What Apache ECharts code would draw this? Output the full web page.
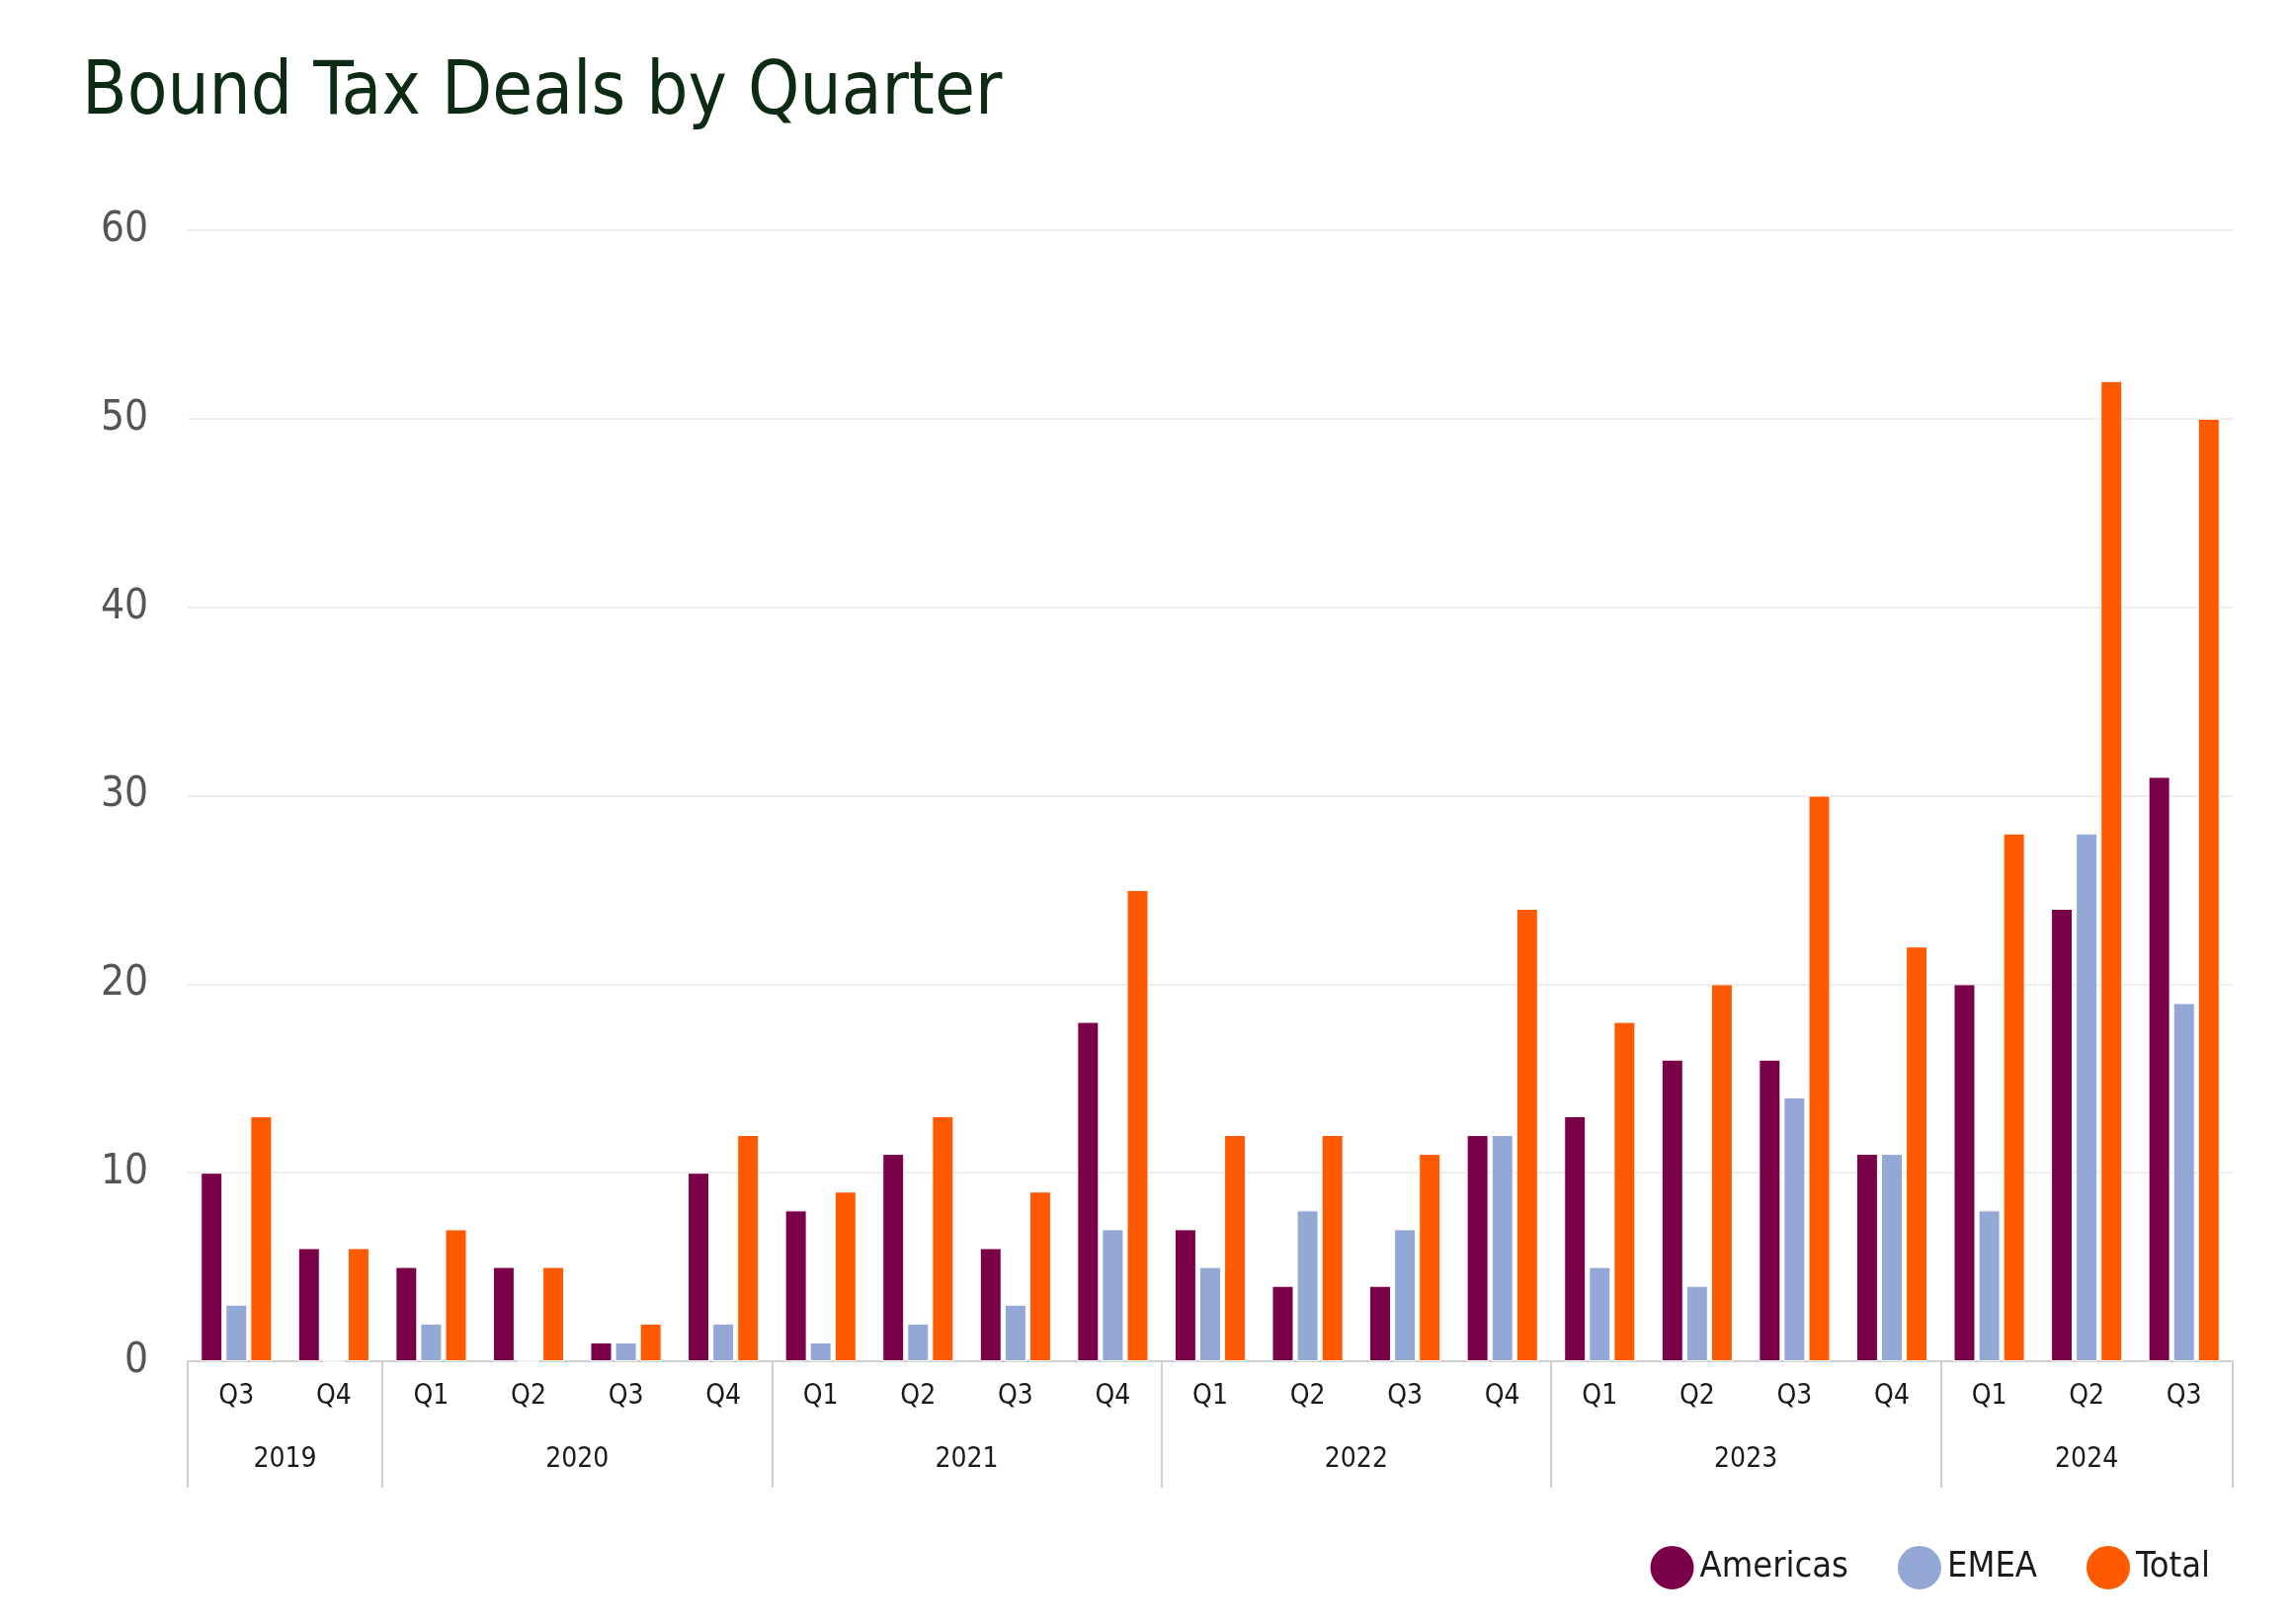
<!DOCTYPE html>
<html><head><meta charset="utf-8">
<script src="https://cdn.jsdelivr.net/npm/echarts@6/dist/echarts.min.js"></script>
<style>html,body{margin:0;background:#fff}#c{width:2320px;height:1644px}</style>
</head><body><div id="c"></div>
<script>
const quarters=['Q3','Q4','Q1','Q2','Q3','Q4','Q1','Q2','Q3','Q4','Q1','Q2','Q3','Q4','Q1','Q2','Q3','Q4','Q1','Q2','Q3'];
const years=['2019','2020','2021','2022','2023','2024'];
const yearCenters=[2,8,16,24,32,39]; // in half-quarter units
const groupBounds=[0,2,6,10,14,18,21];
const americas=[10,6,5,5,1,10,8,11,6,18,7,4,4,12,13,16,16,11,20,24,31];
const emea=[3,0,2,0,1,2,1,2,3,7,5,8,7,12,5,4,14,11,8,28,19];
const total=[13,6,7,5,2,12,9,13,9,25,12,12,11,24,18,20,30,22,28,52,50];
const F='"Liberation Sans Narrow","DejaVu Sans Condensed","Roboto",sans-serif';
const ch=echarts.init(document.getElementById('c'));
const bar=(name,data,color)=>({name,type:'bar',data,barWidth:22,barGap:'14%',
  itemStyle:{color,borderColor:'#fff',borderWidth:1}});
ch.setOption({
  animation:false,
  title:{text:'Bound Tax Deals by Quarter',left:78,top:54,textStyle:{fontFamily:F,fontSize:74,fontWeight:'normal',color:'#0d2a14'}},
  legend:{right:78,top:1558,icon:'circle',itemWidth:46,itemHeight:46,itemGap:48,
    textStyle:{fontFamily:F,fontSize:36,color:'#1a1a1a'},data:['Americas','EMEA','Total']},
  grid:{left:190,right:60,top:233,bottom:266},
  xAxis:[{type:'category',data:quarters,
    axisLine:{lineStyle:{color:'#d0d0d0',width:2}},
    axisTick:{show:true,length:128,lineStyle:{color:'#d0d0d0',width:2},interval:(i)=>groupBounds.includes(i)},
    axisLabel:{fontFamily:F,fontSize:28,color:'#1a1a1a',margin:22}},
   {type:'value',position:'bottom',min:0,max:42,interval:1,
    axisLine:{show:false},axisTick:{show:false},splitLine:{show:false},
    axisLabel:{margin:86,fontFamily:F,fontSize:28,color:'#1a1a1a',showMinLabel:true,showMaxLabel:true,
      formatter:(v)=>{const k=yearCenters.indexOf(v);return k>=0?years[k]:'';}}}],
  yAxis:{type:'value',min:0,max:60,interval:10,axisLine:{show:false},axisTick:{show:false},
    axisLabel:{fontFamily:F,fontSize:42,color:'#555',margin:40},
    splitLine:{lineStyle:{color:'#e8e8e8',width:1.5}}},
  series:[bar('Americas',americas,'#7a0047'),bar('EMEA',emea,'#93a8d4'),bar('Total',total,'#ff5a00')]
});
</script></body></html>
